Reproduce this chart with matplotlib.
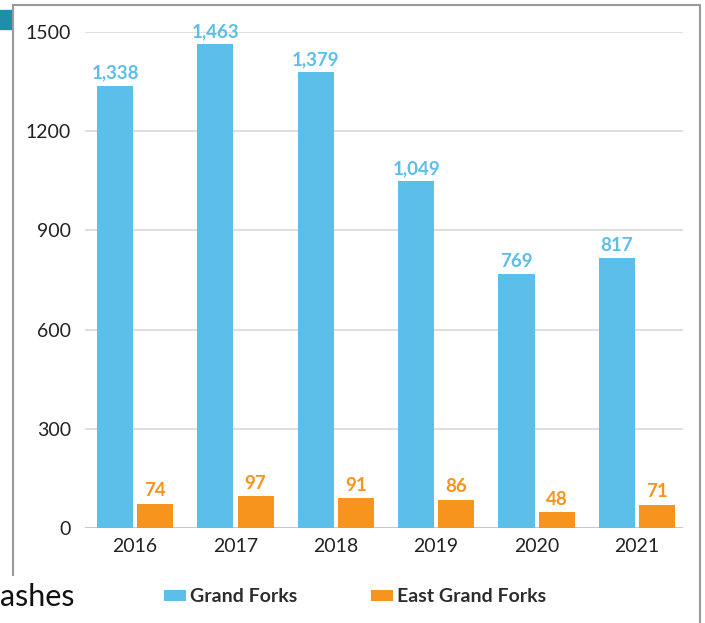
import matplotlib
matplotlib.use("Agg")
import matplotlib.pyplot as plt
from matplotlib.patches import Rectangle
from matplotlib.lines import Line2D
import numpy as np

plt.rcParams['font.family'] = ['Lato', 'DejaVu Sans']

years = ['2016', '2017', '2018', '2019', '2020', '2021']
grand_forks = [1338, 1463, 1379, 1049, 769, 817]
east_grand_forks = [74, 97, 91, 86, 48, 71]
yticks = [0, 300, 600, 900, 1200, 1500]

blue = '#5bbfe9'
orange = '#f7941d'

fig = plt.figure(figsize=(7.05, 6.23), dpi=100)
ax = fig.add_axes([85/705, 1 - 528/623, 598/705, 496/623])

x = np.arange(len(years))
w = 0.36
off = 0.2
b1 = ax.bar(x - off, grand_forks, w, color=blue, label='Grand Forks', zorder=3)
b2 = ax.bar(x + off, east_grand_forks, w, color=orange, label='East Grand Forks', zorder=3)

for rect, v in zip(b1, grand_forks):
    ax.annotate(f'{v:,}', (rect.get_x() + rect.get_width()/2, v), xytext=(0, 3),
                textcoords='offset points', ha='center', va='bottom',
                color=blue, fontsize=13.5, fontweight='bold', zorder=4)
for rect, v in zip(b2, east_grand_forks):
    ax.annotate(f'{v:,}', (rect.get_x() + rect.get_width()/2, v), xytext=(0, 3),
                textcoords='offset points', ha='center', va='bottom',
                color=orange, fontsize=13.5, fontweight='bold', zorder=4)

ax.set_xlim(-0.5, 5.46)
ax.set_ylim(0, 1500)
ax.set_yticks(yticks)
ax.set_xticks(x)
ax.set_xticklabels(years)
ax.tick_params(axis='both', length=0, labelsize=14, labelcolor='#222222')
ax.tick_params(axis='y', pad=10)
ax.tick_params(axis='x', pad=7)
ax.yaxis.grid(True, color='#d9d9d9', linewidth=1.2, zorder=0)
ax.axhline(0, color='#c8c8c8', linewidth=1.5, zorder=2)
for s in ax.spines.values():
    s.set_visible(False)

leg = fig.legend(handles=[b1, b2], loc='center', bbox_to_anchor=(0.504, 0.042),
                 ncol=2, frameon=False, fontsize=14,
                 handlelength=1.13, handleheight=0.52, handletextpad=0.2,
                 columnspacing=3.8)
for t in leg.get_texts():
    t.set_fontweight('bold')
    t.set_color('#2d2d2d')

# frame around the panel
fig.add_artist(Line2D([13/705, 700/705, 700/705], [1 - 4.5/623, 1 - 4.5/623, 0],
                      color='#9a9a9a', linewidth=1.5, transform=fig.transFigure))
fig.add_artist(Line2D([13/705, 13/705], [1 - 4.5/623, 1 - 575/623],
                      color='#9a9a9a', linewidth=1.5, transform=fig.transFigure))
fig.add_artist(Rectangle((0, 1 - 29/623), 12/705, 19/623, color='#1e8fa8',
                         transform=fig.transFigure))

fig.text(0, 1 - 597/623, 'ashes', fontsize=22, color='#111111', ha='left', va='center')

fig.savefig('out.png', dpi=100)
